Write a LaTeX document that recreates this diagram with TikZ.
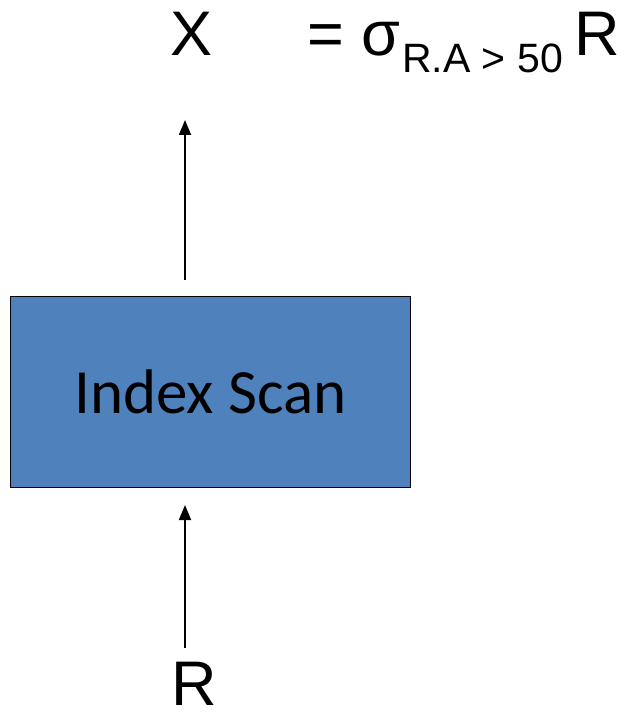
\documentclass[tikz,border=0pt]{standalone}
\usepackage{fontspec}
\setmainfont{Liberation Sans}
\newfontfamily\calibri{Carlito}
\usetikzlibrary{arrows.meta, positioning}
\definecolor{scanblue}{HTML}{4F81BD}

\begin{document}
\begin{tikzpicture}[x=1pt, y=-1pt, flow/.style={-{Triangle[length=15pt,width=12pt]}, line width=1.8pt},
  big/.style={inner sep=0pt, font=\fontsize{63}{70}\selectfont}]
\useasboundingbox (0,0) rectangle (628,714);
\node[draw, fill=scanblue, line width=1.5pt, minimum width=400pt, minimum height=191pt, inner sep=0pt, font=\calibri\fontsize{63}{70}\selectfont](scan) at (210.5,392){Index Scan};
\node[big, anchor=base](x) at (192,56){X};
\node[big, anchor=base west](eq) at (307,56){= σ};
\node[anchor=base west, inner sep=0pt, font=\fontsize{41}{46}\selectfont](cond) at (402,73){R.A > 50};
\node[big, anchor=base west](rel) at (574,56){R};
\node[big, anchor=base](r) at (194,705){R};
\coordinate (in) at (185,648);
\coordinate (intip) at (185,505);
\coordinate (out) at (185,280);
\coordinate (outtip) at (185,120);
\draw[flow] (in) -- (intip);
\draw[flow] (out) -- (outtip);
\end{tikzpicture}
\end{document}
